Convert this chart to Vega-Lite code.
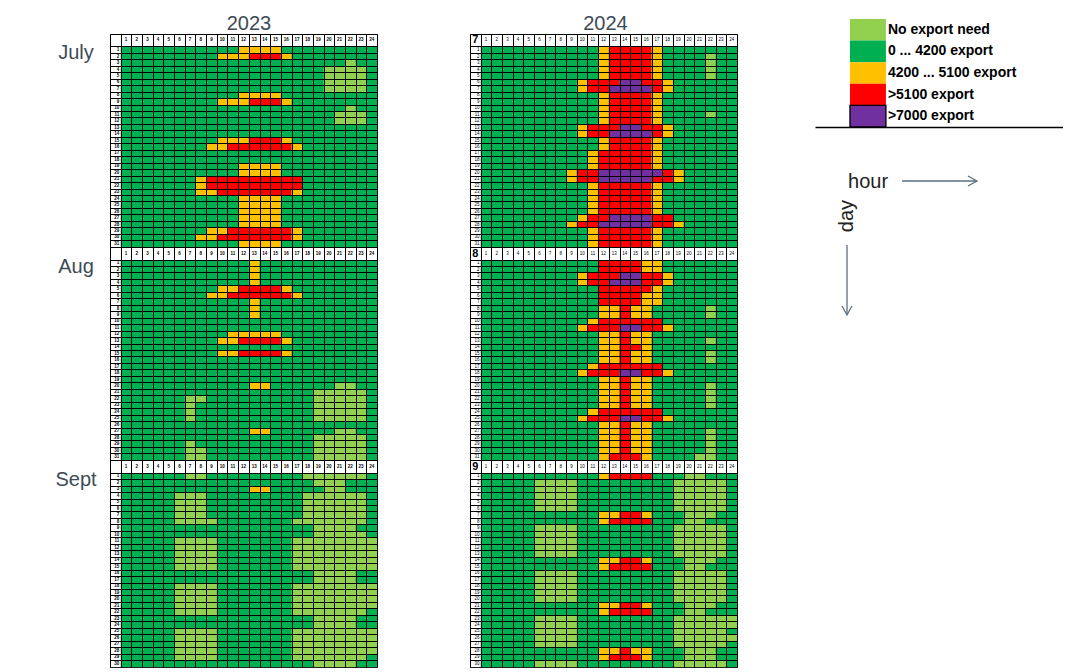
{
"$schema":"https://vega.github.io/schema/vega-lite/v6.json",
"background":"white",
"padding":{"left":54,"top":12,"right":0,"bottom":0},
"config":{"font":"Liberation Sans","view":{"stroke":null}},
"datasets":{
"days":[{"k":"7/1","d":1},{"k":"7/2","d":2},{"k":"7/3","d":3},{"k":"7/4","d":4},{"k":"7/5","d":5},{"k":"7/6","d":6},{"k":"7/7","d":7},{"k":"7/8","d":8},{"k":"7/9","d":9},{"k":"7/10","d":10},{"k":"7/11","d":11},{"k":"7/12","d":12},{"k":"7/13","d":13},{"k":"7/14","d":14},{"k":"7/15","d":15},{"k":"7/16","d":16},{"k":"7/17","d":17},{"k":"7/18","d":18},{"k":"7/19","d":19},{"k":"7/20","d":20},{"k":"7/21","d":21},{"k":"7/22","d":22},{"k":"7/23","d":23},{"k":"7/24","d":24},{"k":"7/25","d":25},{"k":"7/26","d":26},{"k":"7/27","d":27},{"k":"7/28","d":28},{"k":"7/29","d":29},{"k":"7/30","d":30},{"k":"7/31","d":31},
{"k":"8/1","d":1},{"k":"8/2","d":2},{"k":"8/3","d":3},{"k":"8/4","d":4},{"k":"8/5","d":5},{"k":"8/6","d":6},{"k":"8/7","d":7},{"k":"8/8","d":8},{"k":"8/9","d":9},{"k":"8/10","d":10},{"k":"8/11","d":11},{"k":"8/12","d":12},{"k":"8/13","d":13},{"k":"8/14","d":14},{"k":"8/15","d":15},{"k":"8/16","d":16},{"k":"8/17","d":17},{"k":"8/18","d":18},{"k":"8/19","d":19},{"k":"8/20","d":20},{"k":"8/21","d":21},{"k":"8/22","d":22},{"k":"8/23","d":23},{"k":"8/24","d":24},{"k":"8/25","d":25},{"k":"8/26","d":26},{"k":"8/27","d":27},{"k":"8/28","d":28},{"k":"8/29","d":29},{"k":"8/30","d":30},{"k":"8/31","d":31},
{"k":"9/1","d":1},{"k":"9/2","d":2},{"k":"9/3","d":3},{"k":"9/4","d":4},{"k":"9/5","d":5},{"k":"9/6","d":6},{"k":"9/7","d":7},{"k":"9/8","d":8},{"k":"9/9","d":9},{"k":"9/10","d":10},{"k":"9/11","d":11},{"k":"9/12","d":12},{"k":"9/13","d":13},{"k":"9/14","d":14},{"k":"9/15","d":15},{"k":"9/16","d":16},{"k":"9/17","d":17},{"k":"9/18","d":18},{"k":"9/19","d":19},{"k":"9/20","d":20},{"k":"9/21","d":21},{"k":"9/22","d":22},{"k":"9/23","d":23},{"k":"9/24","d":24},{"k":"9/25","d":25},{"k":"9/26","d":26},{"k":"9/27","d":27},{"k":"9/28","d":28},{"k":"9/29","d":29},{"k":"9/30","d":30}],
"hdr":[{"k":"7h2","h":1},{"k":"7h2","h":2},{"k":"7h2","h":3},{"k":"7h2","h":4},{"k":"7h2","h":5},{"k":"7h2","h":6},{"k":"7h2","h":7},{"k":"7h2","h":8},{"k":"7h2","h":9},{"k":"7h2","h":10},{"k":"7h2","h":11},{"k":"7h2","h":12},{"k":"7h2","h":13},{"k":"7h2","h":14},{"k":"7h2","h":15},{"k":"7h2","h":16},{"k":"7h2","h":17},{"k":"7h2","h":18},{"k":"7h2","h":19},{"k":"7h2","h":20},{"k":"7h2","h":21},{"k":"7h2","h":22},{"k":"7h2","h":23},{"k":"7h2","h":24},
{"k":"8h2","h":1},{"k":"8h2","h":2},{"k":"8h2","h":3},{"k":"8h2","h":4},{"k":"8h2","h":5},{"k":"8h2","h":6},{"k":"8h2","h":7},{"k":"8h2","h":8},{"k":"8h2","h":9},{"k":"8h2","h":10},{"k":"8h2","h":11},{"k":"8h2","h":12},{"k":"8h2","h":13},{"k":"8h2","h":14},{"k":"8h2","h":15},{"k":"8h2","h":16},{"k":"8h2","h":17},{"k":"8h2","h":18},{"k":"8h2","h":19},{"k":"8h2","h":20},{"k":"8h2","h":21},{"k":"8h2","h":22},{"k":"8h2","h":23},{"k":"8h2","h":24},
{"k":"9h2","h":1},{"k":"9h2","h":2},{"k":"9h2","h":3},{"k":"9h2","h":4},{"k":"9h2","h":5},{"k":"9h2","h":6},{"k":"9h2","h":7},{"k":"9h2","h":8},{"k":"9h2","h":9},{"k":"9h2","h":10},{"k":"9h2","h":11},{"k":"9h2","h":12},{"k":"9h2","h":13},{"k":"9h2","h":14},{"k":"9h2","h":15},{"k":"9h2","h":16},{"k":"9h2","h":17},{"k":"9h2","h":18},{"k":"9h2","h":19},{"k":"9h2","h":20},{"k":"9h2","h":21},{"k":"9h2","h":22},{"k":"9h2","h":23},{"k":"9h2","h":24}],
"mlab":[{"k":"7/1","t":"July"},{"k":"8/1","t":"Aug"},{"k":"9/1","t":"Sept"}],
"corner":[{"k":"7h2","t":"7"},{"k":"8h2","t":"8"},{"k":"9h2","t":"9"}],
"leg":[{"c":"L","label":"No export need"},{"c":"G","label":"0 ... 4200 export"},{"c":"Y","label":"4200 ... 5100 export"},{"c":"R","label":">5100 export"},{"c":"P","label":">7000 export"}],
"r23":[
{"k":"7/1","f":11,"t":15,"c":"Y"},
{"k":"7/2","f":9,"t":12,"c":"Y"},{"k":"7/2","f":12,"t":15,"c":"R"},{"k":"7/2","f":15,"t":16,"c":"Y"},
{"k":"7/3","f":21,"t":22,"c":"L"},
{"k":"7/4","f":19,"t":23,"c":"L"},{"k":"7/5","f":19,"t":23,"c":"L"},{"k":"7/6","f":19,"t":23,"c":"L"},{"k":"7/7","f":19,"t":23,"c":"L"},
{"k":"7/8","f":11,"t":15,"c":"Y"},
{"k":"7/9","f":9,"t":12,"c":"Y"},{"k":"7/9","f":12,"t":15,"c":"R"},{"k":"7/9","f":15,"t":16,"c":"Y"},
{"k":"7/10","f":21,"t":22,"c":"L"},
{"k":"7/11","f":20,"t":23,"c":"L"},{"k":"7/12","f":20,"t":23,"c":"L"},
{"k":"7/15","f":9,"t":12,"c":"Y"},{"k":"7/15","f":12,"t":15,"c":"R"},{"k":"7/15","f":15,"t":16,"c":"Y"},
{"k":"7/16","f":8,"t":10,"c":"Y"},{"k":"7/16","f":10,"t":16,"c":"R"},{"k":"7/16","f":16,"t":17,"c":"Y"},
{"k":"7/19","f":11,"t":15,"c":"Y"},{"k":"7/20","f":11,"t":15,"c":"Y"},
{"k":"7/21","f":7,"t":8,"c":"Y"},{"k":"7/21","f":8,"t":17,"c":"R"},
{"k":"7/22","f":7,"t":8,"c":"Y"},{"k":"7/22","f":8,"t":17,"c":"R"},
{"k":"7/23","f":7,"t":9,"c":"Y"},{"k":"7/23","f":9,"t":16,"c":"R"},{"k":"7/23","f":16,"t":17,"c":"Y"},
{"k":"7/24","f":11,"t":15,"c":"Y"},{"k":"7/25","f":11,"t":15,"c":"Y"},{"k":"7/26","f":11,"t":15,"c":"Y"},{"k":"7/27","f":11,"t":15,"c":"Y"},{"k":"7/28","f":11,"t":15,"c":"Y"},
{"k":"7/29","f":8,"t":10,"c":"Y"},{"k":"7/29","f":10,"t":16,"c":"R"},{"k":"7/29","f":16,"t":17,"c":"Y"},
{"k":"7/30","f":7,"t":9,"c":"Y"},{"k":"7/30","f":9,"t":16,"c":"R"},{"k":"7/30","f":16,"t":17,"c":"Y"},
{"k":"7/31","f":11,"t":15,"c":"Y"},
{"k":"8/1","f":12,"t":13,"c":"Y"},{"k":"8/2","f":12,"t":13,"c":"Y"},{"k":"8/3","f":12,"t":13,"c":"Y"},{"k":"8/4","f":12,"t":13,"c":"Y"},
{"k":"8/5","f":9,"t":11,"c":"Y"},{"k":"8/5","f":11,"t":15,"c":"R"},{"k":"8/5","f":15,"t":16,"c":"Y"},
{"k":"8/6","f":8,"t":10,"c":"Y"},{"k":"8/6","f":10,"t":16,"c":"R"},{"k":"8/6","f":16,"t":17,"c":"Y"},
{"k":"8/7","f":12,"t":13,"c":"Y"},{"k":"8/8","f":12,"t":13,"c":"Y"},{"k":"8/9","f":12,"t":13,"c":"Y"},
{"k":"8/12","f":10,"t":15,"c":"Y"},
{"k":"8/13","f":9,"t":11,"c":"Y"},{"k":"8/13","f":11,"t":15,"c":"R"},{"k":"8/13","f":15,"t":16,"c":"Y"},
{"k":"8/15","f":9,"t":11,"c":"Y"},{"k":"8/15","f":11,"t":15,"c":"R"},{"k":"8/15","f":15,"t":16,"c":"Y"},
{"k":"8/20","f":12,"t":14,"c":"Y"},{"k":"8/20","f":20,"t":22,"c":"L"},
{"k":"8/21","f":18,"t":23,"c":"L"},
{"k":"8/22","f":6,"t":8,"c":"L"},{"k":"8/22","f":18,"t":23,"c":"L"},
{"k":"8/23","f":6,"t":7,"c":"L"},{"k":"8/23","f":18,"t":23,"c":"L"},
{"k":"8/24","f":6,"t":7,"c":"L"},{"k":"8/24","f":18,"t":23,"c":"L"},
{"k":"8/25","f":6,"t":7,"c":"L"},{"k":"8/25","f":18,"t":23,"c":"L"},
{"k":"8/27","f":12,"t":14,"c":"Y"},{"k":"8/27","f":20,"t":22,"c":"L"},
{"k":"8/28","f":18,"t":23,"c":"L"},
{"k":"8/29","f":6,"t":7,"c":"L"},{"k":"8/29","f":18,"t":23,"c":"L"},
{"k":"8/30","f":6,"t":8,"c":"L"},{"k":"8/30","f":18,"t":23,"c":"L"},
{"k":"8/31","f":6,"t":8,"c":"L"},{"k":"8/31","f":18,"t":23,"c":"L"},
{"k":"9/1","f":6,"t":8,"c":"L"},{"k":"9/1","f":17,"t":23,"c":"L"},
{"k":"9/2","f":18,"t":21,"c":"L"},
{"k":"9/3","f":12,"t":14,"c":"Y"},{"k":"9/3","f":19,"t":21,"c":"L"},
{"k":"9/4","f":5,"t":8,"c":"L"},{"k":"9/4","f":17,"t":23,"c":"L"},
{"k":"9/5","f":5,"t":8,"c":"L"},{"k":"9/5","f":17,"t":23,"c":"L"},
{"k":"9/6","f":5,"t":8,"c":"L"},{"k":"9/6","f":17,"t":23,"c":"L"},
{"k":"9/7","f":5,"t":8,"c":"L"},{"k":"9/7","f":17,"t":23,"c":"L"},
{"k":"9/8","f":5,"t":9,"c":"L"},{"k":"9/8","f":16,"t":23,"c":"L"},
{"k":"9/9","f":18,"t":22,"c":"L"},
{"k":"9/10","f":18,"t":23,"c":"L"},
{"k":"9/11","f":5,"t":9,"c":"L"},{"k":"9/11","f":16,"t":24,"c":"L"},
{"k":"9/12","f":5,"t":9,"c":"L"},{"k":"9/12","f":16,"t":24,"c":"L"},
{"k":"9/13","f":5,"t":9,"c":"L"},{"k":"9/13","f":16,"t":24,"c":"L"},
{"k":"9/14","f":5,"t":9,"c":"L"},{"k":"9/14","f":16,"t":24,"c":"L"},
{"k":"9/15","f":5,"t":9,"c":"L"},{"k":"9/15","f":16,"t":24,"c":"L"},
{"k":"9/16","f":18,"t":22,"c":"L"},{"k":"9/17","f":18,"t":22,"c":"L"},
{"k":"9/18","f":5,"t":9,"c":"L"},{"k":"9/18","f":16,"t":24,"c":"L"},
{"k":"9/19","f":5,"t":9,"c":"L"},{"k":"9/19","f":16,"t":24,"c":"L"},
{"k":"9/20","f":5,"t":9,"c":"L"},{"k":"9/20","f":16,"t":24,"c":"L"},
{"k":"9/21","f":5,"t":9,"c":"L"},{"k":"9/21","f":16,"t":24,"c":"L"},
{"k":"9/22","f":5,"t":9,"c":"L"},{"k":"9/22","f":16,"t":23,"c":"L"},
{"k":"9/23","f":18,"t":22,"c":"L"},{"k":"9/24","f":18,"t":22,"c":"L"},
{"k":"9/25","f":5,"t":9,"c":"L"},{"k":"9/25","f":16,"t":24,"c":"L"},
{"k":"9/26","f":5,"t":9,"c":"L"},{"k":"9/26","f":16,"t":24,"c":"L"},
{"k":"9/27","f":5,"t":9,"c":"L"},{"k":"9/27","f":16,"t":24,"c":"L"},
{"k":"9/28","f":5,"t":9,"c":"L"},{"k":"9/28","f":16,"t":24,"c":"L"},
{"k":"9/29","f":5,"t":9,"c":"L"},{"k":"9/29","f":16,"t":23,"c":"L"},
{"k":"9/30","f":18,"t":22,"c":"L"}],
"r24":[
{"k":"7/1","f":11,"t":12,"c":"Y"},{"k":"7/1","f":12,"t":16,"c":"R"},{"k":"7/1","f":16,"t":17,"c":"Y"},
{"k":"7/2","f":11,"t":12,"c":"Y"},{"k":"7/2","f":12,"t":16,"c":"R"},{"k":"7/2","f":16,"t":17,"c":"Y"},{"k":"7/2","f":21,"t":22,"c":"L"},
{"k":"7/3","f":11,"t":12,"c":"Y"},{"k":"7/3","f":12,"t":16,"c":"R"},{"k":"7/3","f":16,"t":17,"c":"Y"},{"k":"7/3","f":21,"t":22,"c":"L"},
{"k":"7/4","f":11,"t":12,"c":"Y"},{"k":"7/4","f":12,"t":16,"c":"R"},{"k":"7/4","f":16,"t":17,"c":"Y"},{"k":"7/4","f":21,"t":22,"c":"L"},
{"k":"7/5","f":11,"t":12,"c":"Y"},{"k":"7/5","f":12,"t":16,"c":"R"},{"k":"7/5","f":16,"t":17,"c":"Y"},{"k":"7/5","f":21,"t":22,"c":"L"},
{"k":"7/6","f":9,"t":10,"c":"Y"},{"k":"7/6","f":10,"t":13,"c":"R"},{"k":"7/6","f":13,"t":15,"c":"P"},{"k":"7/6","f":15,"t":17,"c":"R"},{"k":"7/6","f":17,"t":18,"c":"Y"},
{"k":"7/7","f":9,"t":10,"c":"Y"},{"k":"7/7","f":10,"t":12,"c":"R"},{"k":"7/7","f":12,"t":16,"c":"P"},{"k":"7/7","f":16,"t":17,"c":"R"},{"k":"7/7","f":17,"t":18,"c":"Y"},
{"k":"7/8","f":11,"t":12,"c":"Y"},{"k":"7/8","f":12,"t":16,"c":"R"},{"k":"7/8","f":16,"t":17,"c":"Y"},
{"k":"7/9","f":11,"t":12,"c":"Y"},{"k":"7/9","f":12,"t":16,"c":"R"},{"k":"7/9","f":16,"t":17,"c":"Y"},
{"k":"7/10","f":11,"t":12,"c":"Y"},{"k":"7/10","f":12,"t":16,"c":"R"},{"k":"7/10","f":16,"t":17,"c":"Y"},
{"k":"7/11","f":11,"t":12,"c":"Y"},{"k":"7/11","f":12,"t":16,"c":"R"},{"k":"7/11","f":16,"t":17,"c":"Y"},{"k":"7/11","f":21,"t":22,"c":"L"},
{"k":"7/12","f":11,"t":12,"c":"Y"},{"k":"7/12","f":12,"t":16,"c":"R"},{"k":"7/12","f":16,"t":17,"c":"Y"},
{"k":"7/13","f":9,"t":10,"c":"Y"},{"k":"7/13","f":10,"t":13,"c":"R"},{"k":"7/13","f":13,"t":15,"c":"P"},{"k":"7/13","f":15,"t":17,"c":"R"},{"k":"7/13","f":17,"t":18,"c":"Y"},
{"k":"7/14","f":9,"t":10,"c":"Y"},{"k":"7/14","f":10,"t":12,"c":"R"},{"k":"7/14","f":12,"t":16,"c":"P"},{"k":"7/14","f":16,"t":17,"c":"R"},{"k":"7/14","f":17,"t":18,"c":"Y"},
{"k":"7/15","f":11,"t":12,"c":"Y"},{"k":"7/15","f":12,"t":16,"c":"R"},{"k":"7/15","f":16,"t":17,"c":"Y"},
{"k":"7/16","f":11,"t":12,"c":"Y"},{"k":"7/16","f":12,"t":16,"c":"R"},{"k":"7/16","f":16,"t":17,"c":"Y"},
{"k":"7/17","f":10,"t":11,"c":"Y"},{"k":"7/17","f":11,"t":16,"c":"R"},{"k":"7/17","f":16,"t":17,"c":"Y"},
{"k":"7/18","f":10,"t":11,"c":"Y"},{"k":"7/18","f":11,"t":16,"c":"R"},{"k":"7/18","f":16,"t":17,"c":"Y"},
{"k":"7/19","f":10,"t":11,"c":"Y"},{"k":"7/19","f":11,"t":16,"c":"R"},{"k":"7/19","f":16,"t":17,"c":"Y"},
{"k":"7/20","f":8,"t":9,"c":"Y"},{"k":"7/20","f":9,"t":11,"c":"R"},{"k":"7/20","f":11,"t":17,"c":"P"},{"k":"7/20","f":17,"t":18,"c":"R"},{"k":"7/20","f":18,"t":19,"c":"Y"},
{"k":"7/21","f":8,"t":9,"c":"Y"},{"k":"7/21","f":9,"t":11,"c":"R"},{"k":"7/21","f":11,"t":16,"c":"P"},{"k":"7/21","f":16,"t":18,"c":"R"},{"k":"7/21","f":18,"t":19,"c":"Y"},
{"k":"7/22","f":10,"t":11,"c":"Y"},{"k":"7/22","f":11,"t":16,"c":"R"},{"k":"7/22","f":16,"t":17,"c":"Y"},
{"k":"7/23","f":10,"t":11,"c":"Y"},{"k":"7/23","f":11,"t":16,"c":"R"},{"k":"7/23","f":16,"t":17,"c":"Y"},
{"k":"7/24","f":10,"t":11,"c":"Y"},{"k":"7/24","f":11,"t":16,"c":"R"},{"k":"7/24","f":16,"t":17,"c":"Y"},
{"k":"7/25","f":10,"t":11,"c":"Y"},{"k":"7/25","f":11,"t":16,"c":"R"},{"k":"7/25","f":16,"t":17,"c":"Y"},
{"k":"7/26","f":10,"t":11,"c":"Y"},{"k":"7/26","f":11,"t":16,"c":"R"},{"k":"7/26","f":16,"t":17,"c":"Y"},
{"k":"7/27","f":9,"t":10,"c":"Y"},{"k":"7/27","f":10,"t":12,"c":"R"},{"k":"7/27","f":12,"t":16,"c":"P"},{"k":"7/27","f":16,"t":18,"c":"R"},
{"k":"7/28","f":8,"t":9,"c":"Y"},{"k":"7/28","f":9,"t":11,"c":"R"},{"k":"7/28","f":11,"t":16,"c":"P"},{"k":"7/28","f":16,"t":18,"c":"R"},{"k":"7/28","f":18,"t":19,"c":"Y"},
{"k":"7/29","f":10,"t":11,"c":"Y"},{"k":"7/29","f":11,"t":16,"c":"R"},{"k":"7/29","f":16,"t":17,"c":"Y"},
{"k":"7/30","f":10,"t":11,"c":"Y"},{"k":"7/30","f":11,"t":16,"c":"R"},{"k":"7/30","f":16,"t":17,"c":"Y"},
{"k":"7/31","f":10,"t":11,"c":"Y"},{"k":"7/31","f":11,"t":16,"c":"R"},{"k":"7/31","f":16,"t":17,"c":"Y"},
{"k":"8/1","f":11,"t":15,"c":"R"},{"k":"8/1","f":15,"t":17,"c":"Y"},
{"k":"8/2","f":11,"t":15,"c":"R"},{"k":"8/2","f":15,"t":17,"c":"Y"},
{"k":"8/3","f":9,"t":10,"c":"Y"},{"k":"8/3","f":10,"t":13,"c":"R"},{"k":"8/3","f":13,"t":15,"c":"P"},{"k":"8/3","f":15,"t":17,"c":"R"},{"k":"8/3","f":17,"t":18,"c":"Y"},
{"k":"8/4","f":9,"t":10,"c":"Y"},{"k":"8/4","f":10,"t":12,"c":"R"},{"k":"8/4","f":12,"t":15,"c":"P"},{"k":"8/4","f":15,"t":17,"c":"R"},{"k":"8/4","f":17,"t":18,"c":"Y"},
{"k":"8/5","f":11,"t":16,"c":"R"},{"k":"8/5","f":16,"t":17,"c":"Y"},
{"k":"8/6","f":11,"t":15,"c":"R"},{"k":"8/6","f":15,"t":17,"c":"Y"},
{"k":"8/7","f":11,"t":15,"c":"R"},{"k":"8/7","f":15,"t":17,"c":"Y"},
{"k":"8/8","f":11,"t":13,"c":"Y"},{"k":"8/8","f":13,"t":14,"c":"R"},{"k":"8/8","f":14,"t":16,"c":"Y"},{"k":"8/8","f":21,"t":22,"c":"L"},
{"k":"8/9","f":11,"t":13,"c":"Y"},{"k":"8/9","f":13,"t":14,"c":"R"},{"k":"8/9","f":14,"t":16,"c":"Y"},{"k":"8/9","f":21,"t":22,"c":"L"},
{"k":"8/10","f":10,"t":11,"c":"Y"},{"k":"8/10","f":11,"t":17,"c":"R"},
{"k":"8/11","f":9,"t":10,"c":"Y"},{"k":"8/11","f":10,"t":13,"c":"R"},{"k":"8/11","f":13,"t":15,"c":"P"},{"k":"8/11","f":15,"t":17,"c":"R"},{"k":"8/11","f":17,"t":18,"c":"Y"},
{"k":"8/12","f":11,"t":13,"c":"Y"},{"k":"8/12","f":13,"t":14,"c":"R"},{"k":"8/12","f":14,"t":16,"c":"Y"},
{"k":"8/13","f":11,"t":13,"c":"Y"},{"k":"8/13","f":13,"t":14,"c":"R"},{"k":"8/13","f":14,"t":16,"c":"Y"},{"k":"8/13","f":21,"t":22,"c":"L"},
{"k":"8/14","f":11,"t":13,"c":"Y"},{"k":"8/14","f":13,"t":15,"c":"R"},{"k":"8/14","f":15,"t":16,"c":"Y"},
{"k":"8/15","f":11,"t":13,"c":"Y"},{"k":"8/15","f":13,"t":14,"c":"R"},{"k":"8/15","f":14,"t":16,"c":"Y"},{"k":"8/15","f":21,"t":22,"c":"L"},
{"k":"8/16","f":11,"t":13,"c":"Y"},{"k":"8/16","f":13,"t":14,"c":"R"},{"k":"8/16","f":14,"t":16,"c":"Y"},{"k":"8/16","f":21,"t":22,"c":"L"},
{"k":"8/17","f":10,"t":11,"c":"Y"},{"k":"8/17","f":11,"t":17,"c":"R"},
{"k":"8/18","f":9,"t":10,"c":"Y"},{"k":"8/18","f":10,"t":13,"c":"R"},{"k":"8/18","f":13,"t":15,"c":"P"},{"k":"8/18","f":15,"t":17,"c":"R"},{"k":"8/18","f":17,"t":18,"c":"Y"},
{"k":"8/19","f":11,"t":13,"c":"Y"},{"k":"8/19","f":13,"t":14,"c":"R"},{"k":"8/19","f":14,"t":16,"c":"Y"},
{"k":"8/20","f":11,"t":13,"c":"Y"},{"k":"8/20","f":13,"t":14,"c":"R"},{"k":"8/20","f":14,"t":16,"c":"Y"},{"k":"8/20","f":21,"t":22,"c":"L"},
{"k":"8/21","f":11,"t":13,"c":"Y"},{"k":"8/21","f":13,"t":14,"c":"R"},{"k":"8/21","f":14,"t":16,"c":"Y"},{"k":"8/21","f":21,"t":22,"c":"L"},
{"k":"8/22","f":11,"t":13,"c":"Y"},{"k":"8/22","f":13,"t":14,"c":"R"},{"k":"8/22","f":14,"t":16,"c":"Y"},{"k":"8/22","f":21,"t":22,"c":"L"},
{"k":"8/23","f":11,"t":13,"c":"Y"},{"k":"8/23","f":13,"t":14,"c":"R"},{"k":"8/23","f":14,"t":16,"c":"Y"},{"k":"8/23","f":21,"t":22,"c":"L"},
{"k":"8/24","f":10,"t":11,"c":"Y"},{"k":"8/24","f":11,"t":17,"c":"R"},
{"k":"8/25","f":9,"t":10,"c":"Y"},{"k":"8/25","f":10,"t":13,"c":"R"},{"k":"8/25","f":13,"t":15,"c":"P"},{"k":"8/25","f":15,"t":17,"c":"R"},{"k":"8/25","f":17,"t":18,"c":"Y"},
{"k":"8/26","f":11,"t":13,"c":"Y"},{"k":"8/26","f":13,"t":14,"c":"R"},{"k":"8/26","f":14,"t":16,"c":"Y"},
{"k":"8/27","f":11,"t":13,"c":"Y"},{"k":"8/27","f":13,"t":14,"c":"R"},{"k":"8/27","f":14,"t":16,"c":"Y"},{"k":"8/27","f":21,"t":22,"c":"L"},
{"k":"8/28","f":11,"t":13,"c":"Y"},{"k":"8/28","f":13,"t":14,"c":"R"},{"k":"8/28","f":14,"t":16,"c":"Y"},{"k":"8/28","f":21,"t":22,"c":"L"},
{"k":"8/29","f":11,"t":13,"c":"Y"},{"k":"8/29","f":13,"t":14,"c":"R"},{"k":"8/29","f":14,"t":16,"c":"Y"},{"k":"8/29","f":21,"t":22,"c":"L"},
{"k":"8/30","f":11,"t":13,"c":"Y"},{"k":"8/30","f":13,"t":14,"c":"R"},{"k":"8/30","f":14,"t":16,"c":"Y"},{"k":"8/30","f":21,"t":22,"c":"L"},
{"k":"8/31","f":11,"t":12,"c":"Y"},{"k":"8/31","f":12,"t":15,"c":"R"},{"k":"8/31","f":15,"t":16,"c":"Y"},{"k":"8/31","f":20,"t":22,"c":"L"},
{"k":"9/1","f":11,"t":12,"c":"Y"},{"k":"9/1","f":12,"t":16,"c":"R"},{"k":"9/1","f":19,"t":21,"c":"L"},
{"k":"9/2","f":5,"t":9,"c":"L"},{"k":"9/2","f":18,"t":23,"c":"L"},
{"k":"9/3","f":5,"t":9,"c":"L"},{"k":"9/3","f":18,"t":23,"c":"L"},
{"k":"9/4","f":5,"t":9,"c":"L"},{"k":"9/4","f":18,"t":23,"c":"L"},
{"k":"9/5","f":5,"t":9,"c":"L"},{"k":"9/5","f":18,"t":23,"c":"L"},
{"k":"9/6","f":5,"t":9,"c":"L"},{"k":"9/6","f":18,"t":23,"c":"L"},
{"k":"9/7","f":11,"t":13,"c":"Y"},{"k":"9/7","f":13,"t":15,"c":"R"},{"k":"9/7","f":15,"t":16,"c":"Y"},{"k":"9/7","f":19,"t":22,"c":"L"},
{"k":"9/8","f":11,"t":12,"c":"Y"},{"k":"9/8","f":12,"t":16,"c":"R"},{"k":"9/8","f":19,"t":21,"c":"L"},
{"k":"9/9","f":5,"t":9,"c":"L"},{"k":"9/9","f":18,"t":23,"c":"L"},
{"k":"9/10","f":5,"t":9,"c":"L"},{"k":"9/10","f":18,"t":23,"c":"L"},
{"k":"9/11","f":5,"t":9,"c":"L"},{"k":"9/11","f":18,"t":23,"c":"L"},
{"k":"9/12","f":5,"t":9,"c":"L"},{"k":"9/12","f":18,"t":23,"c":"L"},
{"k":"9/13","f":5,"t":9,"c":"L"},{"k":"9/13","f":18,"t":23,"c":"L"},
{"k":"9/14","f":11,"t":13,"c":"Y"},{"k":"9/14","f":13,"t":15,"c":"R"},{"k":"9/14","f":15,"t":16,"c":"Y"},{"k":"9/14","f":19,"t":22,"c":"L"},
{"k":"9/15","f":11,"t":12,"c":"Y"},{"k":"9/15","f":12,"t":16,"c":"R"},{"k":"9/15","f":19,"t":21,"c":"L"},
{"k":"9/16","f":5,"t":9,"c":"L"},{"k":"9/16","f":18,"t":23,"c":"L"},
{"k":"9/17","f":5,"t":9,"c":"L"},{"k":"9/17","f":18,"t":23,"c":"L"},
{"k":"9/18","f":5,"t":9,"c":"L"},{"k":"9/18","f":18,"t":23,"c":"L"},
{"k":"9/19","f":5,"t":9,"c":"L"},{"k":"9/19","f":18,"t":23,"c":"L"},
{"k":"9/20","f":5,"t":9,"c":"L"},{"k":"9/20","f":18,"t":23,"c":"L"},
{"k":"9/21","f":11,"t":13,"c":"Y"},{"k":"9/21","f":13,"t":15,"c":"R"},{"k":"9/21","f":15,"t":16,"c":"Y"},{"k":"9/21","f":19,"t":22,"c":"L"},
{"k":"9/22","f":11,"t":12,"c":"Y"},{"k":"9/22","f":12,"t":16,"c":"R"},{"k":"9/22","f":19,"t":21,"c":"L"},
{"k":"9/23","f":5,"t":9,"c":"L"},{"k":"9/23","f":18,"t":24,"c":"L"},
{"k":"9/24","f":5,"t":9,"c":"L"},{"k":"9/24","f":18,"t":24,"c":"L"},
{"k":"9/25","f":5,"t":9,"c":"L"},{"k":"9/25","f":18,"t":23,"c":"L"},
{"k":"9/26","f":5,"t":9,"c":"L"},{"k":"9/26","f":18,"t":24,"c":"L"},
{"k":"9/27","f":5,"t":9,"c":"L"},{"k":"9/27","f":18,"t":23,"c":"L"},
{"k":"9/28","f":11,"t":13,"c":"Y"},{"k":"9/28","f":13,"t":14,"c":"R"},{"k":"9/28","f":14,"t":16,"c":"Y"},{"k":"9/28","f":19,"t":22,"c":"L"},
{"k":"9/29","f":11,"t":12,"c":"Y"},{"k":"9/29","f":12,"t":15,"c":"R"},{"k":"9/29","f":15,"t":16,"c":"Y"},{"k":"9/29","f":19,"t":22,"c":"L"},
{"k":"9/30","f":5,"t":9,"c":"L"},{"k":"9/30","f":18,"t":23,"c":"L"}]
},
"spacing":77,
"hconcat":[
{"spacing":91,"hconcat":[
{"width":267,"height":633,
 "view":{"stroke":"#222","strokeWidth":1},
 "layer":[
  {"data":{"name":"days"},"mark":{"type":"rect","fill":"#00b050"},
   "encoding":{
    "x":{"datum":0,"type":"quantitative","scale":{"domain":[-1,24],"nice":false,"zero":false},
         "axis":{"orient":"top","values":[-1,0,1,2,3,4,5,6,7,8,9,10,11,12,13,14,15,16,17,18,19,20,21,22,23,24],"tickCount":100,"grid":true,"gridColor":"black","gridWidth":1,"gridOpacity":1,"labels":false,"ticks":false,"domain":false,"zindex":1,
                 "title":"2023","titleFontSize":20,"titleFontWeight":"normal","titleColor":"#3d4b56","titleFont":"Liberation Sans","titlePadding":1,"titleX":138.5}},
    "x2":{"datum":24},
    "y":{"field":"k","type":"ordinal","scale":{"domain":["7h","7h2","7/1","7/2","7/3","7/4","7/5","7/6","7/7","7/8","7/9","7/10","7/11","7/12","7/13","7/14","7/15","7/16","7/17","7/18","7/19","7/20","7/21","7/22","7/23","7/24","7/25","7/26","7/27","7/28","7/29","7/30","7/31","8h","8h2","8/1","8/2","8/3","8/4","8/5","8/6","8/7","8/8","8/9","8/10","8/11","8/12","8/13","8/14","8/15","8/16","8/17","8/18","8/19","8/20","8/21","8/22","8/23","8/24","8/25","8/26","8/27","8/28","8/29","8/30","8/31","9h","9h2","9/1","9/2","9/3","9/4","9/5","9/6","9/7","9/8","9/9","9/10","9/11","9/12","9/13","9/14","9/15","9/16","9/17","9/18","9/19","9/20","9/21","9/22","9/23","9/24","9/25","9/26","9/27","9/28","9/29","9/30"],"paddingInner":0,"paddingOuter":0},
         "axis":{"values":["7h","7/1","7/2","7/3","7/4","7/5","7/6","7/7","7/8","7/9","7/10","7/11","7/12","7/13","7/14","7/15","7/16","7/17","7/18","7/19","7/20","7/21","7/22","7/23","7/24","7/25","7/26","7/27","7/28","7/29","7/30","7/31","8h","8/1","8/2","8/3","8/4","8/5","8/6","8/7","8/8","8/9","8/10","8/11","8/12","8/13","8/14","8/15","8/16","8/17","8/18","8/19","8/20","8/21","8/22","8/23","8/24","8/25","8/26","8/27","8/28","8/29","8/30","8/31","9h","9/1","9/2","9/3","9/4","9/5","9/6","9/7","9/8","9/9","9/10","9/11","9/12","9/13","9/14","9/15","9/16","9/17","9/18","9/19","9/20","9/21","9/22","9/23","9/24","9/25","9/26","9/27","9/28","9/29","9/30"],"bandPosition":0,"grid":true,"gridColor":"black","gridWidth":1,"gridOpacity":1,"labels":false,"ticks":false,"domain":false,"title":null,"zindex":1}}
   }},
  {"data":{"name":"r23"},"mark":{"type":"rect"},
   "encoding":{"x":{"field":"f","type":"quantitative"},"x2":{"field":"t"},"y":{"field":"k","type":"ordinal"},
    "fill":{"field":"c","type":"nominal","scale":{"domain":["L","G","Y","R","P"],"range":["#92d050","#00b050","#ffc000","#ff0000","#7030a0"]},"legend":null}}},
  {"data":{"name":"days"},"mark":{"type":"text","fontSize":4.5,"fontWeight":"bold","align":"right","baseline":"middle","dx":-1.5,"color":"black"},
   "encoding":{"x":{"datum":0,"type":"quantitative"},"y":{"field":"k","type":"ordinal"},"text":{"field":"d"}}},
  {"data":{"name":"hdr"},"mark":{"type":"text","fontSize":4.5,"fontWeight":"bold","align":"center","baseline":"middle","dx":-5.34,"color":"black"},
   "encoding":{"x":{"field":"h","type":"quantitative"},"y":{"field":"k","type":"ordinal","bandPosition":0},"text":{"field":"h"}}},
  {"data":{"name":"mlab"},"mark":{"type":"text","fontSize":20,"align":"center","baseline":"middle","dx":-34,"color":"#3d4b56"},
   "encoding":{"x":{"datum":-1,"type":"quantitative"},"y":{"field":"k","type":"ordinal","bandPosition":1},"text":{"field":"t"}}}
 ]},
{"width":267,"height":633,
 "view":{"stroke":"#222","strokeWidth":1},
 "layer":[
  {"data":{"name":"days"},"mark":{"type":"rect","fill":"#00b050"},
   "encoding":{
    "x":{"datum":0,"type":"quantitative","scale":{"domain":[-1,24],"nice":false,"zero":false},
         "axis":{"orient":"top","values":[-1,0,1,2,3,4,5,6,7,8,9,10,11,12,13,14,15,16,17,18,19,20,21,22,23,24],"tickCount":100,"grid":true,"gridColor":"black","gridWidth":1,"gridOpacity":1,"labels":false,"ticks":false,"domain":false,"zindex":1,
                 "title":"2024","titleFontSize":20,"titleFontWeight":"normal","titleColor":"#3d4b56","titleFont":"Liberation Sans","titlePadding":1,"titleX":135}},
    "x2":{"datum":24},
    "y":{"field":"k","type":"ordinal","scale":{"domain":["7h","7h2","7/1","7/2","7/3","7/4","7/5","7/6","7/7","7/8","7/9","7/10","7/11","7/12","7/13","7/14","7/15","7/16","7/17","7/18","7/19","7/20","7/21","7/22","7/23","7/24","7/25","7/26","7/27","7/28","7/29","7/30","7/31","8h","8h2","8/1","8/2","8/3","8/4","8/5","8/6","8/7","8/8","8/9","8/10","8/11","8/12","8/13","8/14","8/15","8/16","8/17","8/18","8/19","8/20","8/21","8/22","8/23","8/24","8/25","8/26","8/27","8/28","8/29","8/30","8/31","9h","9h2","9/1","9/2","9/3","9/4","9/5","9/6","9/7","9/8","9/9","9/10","9/11","9/12","9/13","9/14","9/15","9/16","9/17","9/18","9/19","9/20","9/21","9/22","9/23","9/24","9/25","9/26","9/27","9/28","9/29","9/30"],"paddingInner":0,"paddingOuter":0},
         "axis":{"values":["7h","7/1","7/2","7/3","7/4","7/5","7/6","7/7","7/8","7/9","7/10","7/11","7/12","7/13","7/14","7/15","7/16","7/17","7/18","7/19","7/20","7/21","7/22","7/23","7/24","7/25","7/26","7/27","7/28","7/29","7/30","7/31","8h","8/1","8/2","8/3","8/4","8/5","8/6","8/7","8/8","8/9","8/10","8/11","8/12","8/13","8/14","8/15","8/16","8/17","8/18","8/19","8/20","8/21","8/22","8/23","8/24","8/25","8/26","8/27","8/28","8/29","8/30","8/31","9h","9/1","9/2","9/3","9/4","9/5","9/6","9/7","9/8","9/9","9/10","9/11","9/12","9/13","9/14","9/15","9/16","9/17","9/18","9/19","9/20","9/21","9/22","9/23","9/24","9/25","9/26","9/27","9/28","9/29","9/30"],"bandPosition":0,"grid":true,"gridColor":"black","gridWidth":1,"gridOpacity":1,"labels":false,"ticks":false,"domain":false,"title":null,"zindex":1}}
   }},
  {"data":{"name":"r24"},"mark":{"type":"rect"},
   "encoding":{"x":{"field":"f","type":"quantitative"},"x2":{"field":"t"},"y":{"field":"k","type":"ordinal"},
    "fill":{"field":"c","type":"nominal","scale":{"domain":["L","G","Y","R","P"],"range":["#92d050","#00b050","#ffc000","#ff0000","#7030a0"]},"legend":null}}},
  {"data":{"name":"days"},"mark":{"type":"text","fontSize":4.5,"align":"right","baseline":"middle","dx":-1.2,"color":"black"},
   "encoding":{"x":{"datum":0,"type":"quantitative"},"y":{"field":"k","type":"ordinal"},"text":{"field":"d"}}},
  {"data":{"name":"hdr"},"mark":{"type":"text","fontSize":4.5,"align":"center","baseline":"middle","dx":-5.34,"color":"black"},
   "encoding":{"x":{"field":"h","type":"quantitative"},"y":{"field":"k","type":"ordinal","bandPosition":0},"text":{"field":"h"}}},
  {"data":{"name":"corner"},"mark":{"type":"text","fontSize":11,"fontWeight":"bold","align":"center","baseline":"middle","color":"black"},
   "encoding":{"x":{"datum":-0.5,"type":"quantitative"},"y":{"field":"k","type":"ordinal","bandPosition":0},"text":{"field":"t"}}}
 ]}
]},
{"spacing":0,"vconcat":[
 {"width":248,"height":93,
  "data":{"name":"leg"},
  "layer":[
   {"mark":{"type":"rect"},
    "encoding":{
     "x":{"datum":14.1,"type":"quantitative","scale":{"domain":[0,100],"nice":false,"zero":false},"axis":{"orient":"bottom","grid":false,"ticks":false,"labels":false,"title":null,"domain":true,"domainColor":"black","domainWidth":1.3}},
     "x2":{"datum":28.6},
     "y":{"field":"label","type":"nominal","scale":{"domain":["No export need","0 ... 4200 export","4200 ... 5100 export",">5100 export",">7000 export"],"range":[-15,93],"paddingInner":0,"paddingOuter":0},"axis":null},
     "fill":{"field":"c","type":"nominal","scale":{"domain":["L","G","Y","R","P"],"range":["#92d050","#00b050","#ffc000","#ff0000","#7030a0"]},"legend":null}}},
   {"transform":[{"filter":{"field":"c","equal":"P"}}],
    "mark":{"type":"rect","filled":false,"stroke":"black","strokeWidth":1.3},
    "encoding":{"x":{"datum":14.1,"type":"quantitative"},"x2":{"datum":28.6},"y":{"field":"label","type":"nominal"}}},
   {"mark":{"type":"text","align":"left","baseline":"middle","fontSize":14,"fontWeight":"bold","color":"black"},
    "encoding":{"x":{"datum":29.4,"type":"quantitative"},"y":{"field":"label","type":"nominal"},"text":{"field":"label"}}}
  ]},
 {"width":248,"height":200,
  "data":{"values":[{"t":"hour"}]},
  "layer":[
   {"mark":{"type":"text","fontSize":20,"color":"#222","align":"center","baseline":"middle"},
    "encoding":{"x":{"datum":21.4,"type":"quantitative","scale":{"domain":[0,100],"nice":false,"zero":false},"axis":null},
                "y":{"datum":27,"type":"quantitative","scale":{"domain":[0,100],"reverse":true,"nice":false,"zero":false},"axis":null},
                "text":{"value":"hour"}}},
   {"mark":{"type":"rule","color":"#5b6f80","strokeWidth":1.3},
    "encoding":{"x":{"datum":35.1,"type":"quantitative"},"x2":{"datum":65.3},"y":{"datum":26.5,"type":"quantitative"}}},
   {"mark":{"type":"point","shape":"M-1,-0.55L0,0L-1,0.55","filled":false,"size":324,"color":"#5b6f80","strokeWidth":1.3,"opacity":1},
    "encoding":{"x":{"datum":65.3,"type":"quantitative"},"y":{"datum":26.5,"type":"quantitative"}}},
   {"mark":{"type":"text","fontSize":20,"color":"#222","align":"center","baseline":"middle","angle":270},
    "encoding":{"x":{"datum":12.9,"type":"quantitative"},"y":{"datum":44,"type":"quantitative"},"text":{"value":"day"}}},
   {"mark":{"type":"rule","color":"#5b6f80","strokeWidth":1.3},
    "encoding":{"x":{"datum":12.9,"type":"quantitative"},"y":{"datum":58.5,"type":"quantitative"},"y2":{"datum":93.5}}},
   {"mark":{"type":"point","shape":"M-0.55,-1L0,0L0.55,-1","filled":false,"size":324,"color":"#5b6f80","strokeWidth":1.3,"opacity":1},
    "encoding":{"x":{"datum":12.9,"type":"quantitative"},"y":{"datum":93.5,"type":"quantitative"}}}
  ]}
]}
]
}
